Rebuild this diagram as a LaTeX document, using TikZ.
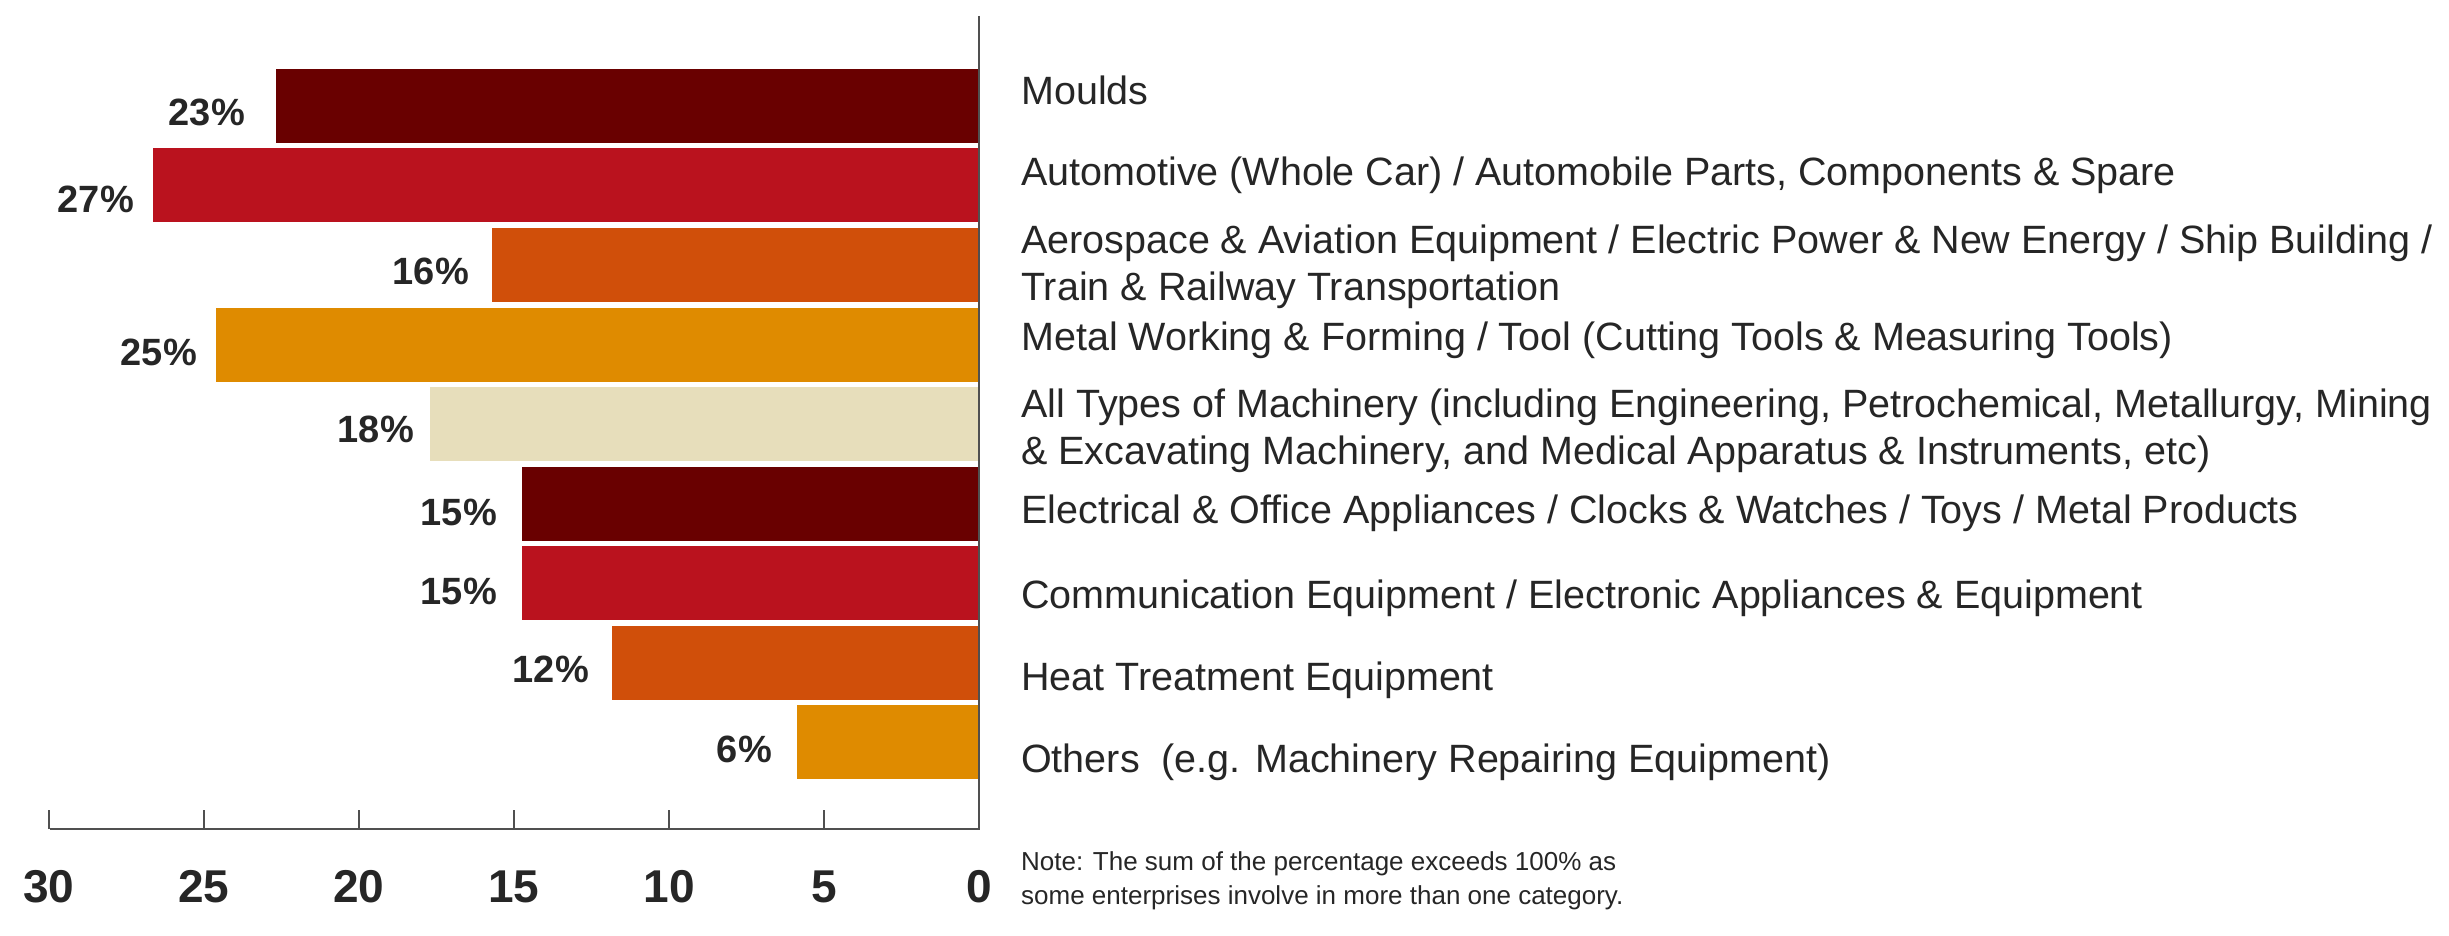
\documentclass[tikz,border=0pt]{standalone}
\usepackage{fontspec}
\setmainfont{Liberation Sans}
\definecolor{cMaroon}{HTML}{690000}
\definecolor{cRed}{HTML}{BA121E}
\definecolor{cOrange}{HTML}{D04F0A}
\definecolor{cAmber}{HTML}{DF8B00}
\definecolor{cBeige}{HTML}{E7DEBB}
\definecolor{cText}{HTML}{262626}
\definecolor{cAxis}{HTML}{505050}
\tikzset{
  cat/.style={anchor=base west, inner sep=0pt, text=cText, font=\fontsize{39.5}{47}\selectfont, align=left},
  pct/.style={anchor=base east, inner sep=0pt, text=cText, font=\fontsize{38}{38}\selectfont\bfseries},
  ticklab/.style={anchor=base, inner sep=0pt, text=cText, font=\fontsize{46}{46}\selectfont\bfseries},
  notetxt/.style={anchor=base west, inner sep=0pt, text=cText, font=\fontsize{26}{34}\selectfont, align=left},
  axisline/.style={draw=cAxis, line width=2.6pt},
}
\begin{document}
\begin{tikzpicture}[x=1pt,y=-1pt]
\useasboundingbox (0,0) rectangle (2449,936);
% bars: left edge, top, colour
\fill[cMaroon] (276,69)    rectangle (979,143);
\fill[cRed]    (153,148.5) rectangle (979,222.5);
\fill[cOrange] (492,228)   rectangle (979,302);
\fill[cAmber]  (216,307.5) rectangle (979,381.5);
\fill[cBeige]  (430,387)   rectangle (979,461);
\fill[cMaroon] (522,466.5) rectangle (979,540.5);
\fill[cRed]    (522,546)   rectangle (979,620);
\fill[cOrange] (612,625.5) rectangle (979,699.5);
\fill[cAmber]  (797,705)   rectangle (979,779);
% axes
\coordinate (top) at (979,16);
\coordinate (origin) at (979,829);
\coordinate (left) at (50,829);
\draw[axisline] (top) -- (origin) -- (left);
\foreach \k in {0,...,6} {
  \draw[axisline] (979-155*\k,829) -- (979-155*\k,810);
}
\node[ticklab] (t0) at (979,902) {0};
\node[ticklab] (t5) at (824,902) {5};
\node[ticklab] (t10) at (669,902) {10};
\node[ticklab] (t15) at (514,902) {15};
\node[ticklab] (t20) at (359,902) {20};
\node[ticklab] (t25) at (204,902) {25};
\node[ticklab] (t30) at (49,902) {30};
% percentage labels
\node[pct] (p1) at (245,126) {23\%};
\node[pct] (p2) at (134,212) {27\%};
\node[pct] (p3) at (469,284) {16\%};
\node[pct] (p4) at (197,365) {25\%};
\node[pct] (p5) at (414,442) {18\%};
\node[pct] (p6) at (497,525) {15\%};
\node[pct] (p7) at (497,604) {15\%};
\node[pct] (p8) at (589,682) {12\%};
\node[pct] (p9) at (772,762) {6\%};
% category labels (base = baseline of last line)
\node[cat] (c1) at (1021,105) {Moulds};
\node[cat] (c2) at (1021,186) {Automotive (Whole Car) / Automobile Parts, Components \& Spare};
\node[cat] (c3) at (1021,300) {Aerospace \& Aviation Equipment / Electric Power \& New Energy / Ship Building /\\Train \& Railway Transportation};
\node[cat] (c4) at (1021,350) {Metal Working \& Forming / Tool (Cutting Tools \& Measuring Tools)};
\node[cat] (c5) at (1021,464) {All Types of Machinery (including Engineering, Petrochemical, Metallurgy, Mining\\\& Excavating Machinery, and Medical Apparatus \& Instruments, etc)};
\node[cat] (c6) at (1021,523) {Electrical \& Office Appliances / Clocks \& Watches / Toys / Metal Products};
\node[cat] (c7) at (1021,608) {Communication Equipment / Electronic Appliances \& Equipment};
\node[cat] (c8) at (1021,690) {Heat Treatment Equipment};
\node[cat] (c9) at (1021,772) {Others\ \ (e.g. Machinery Repairing Equipment)};
% note
\node[notetxt] (note) at (1021,904) {Note: The sum of the percentage exceeds 100\% as\\some enterprises involve in more than one category.};
\end{tikzpicture}
\end{document}
